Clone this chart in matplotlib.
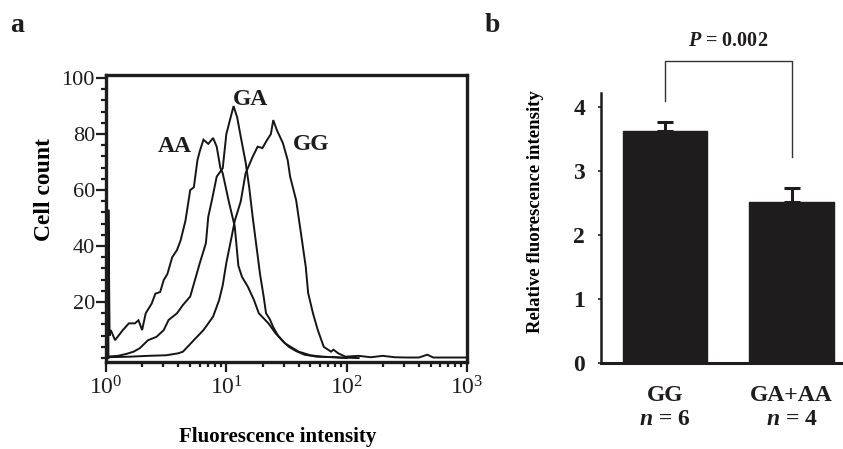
#!/usr/bin/env python3
"""Flow cytometry histogram (a) and relative fluorescence bar chart (b)."""

import matplotlib

matplotlib.use("Agg")
import matplotlib.pyplot as plt
import numpy as np
from matplotlib.ticker import LogLocator, MultipleLocator, NullFormatter

# ---- panel a: histogram traces, x given as log10(fluorescence intensity) ----
AA_LOG10 = [0.02, 0.02, 0.03, 0.04, 0.075, 0.14, 0.19, 0.24, 0.27, 0.30, 0.33, 0.38, 0.41, 0.45,
            0.48, 0.51, 0.55, 0.59, 0.62, 0.66, 0.70, 0.73, 0.76, 0.78, 0.81, 0.85, 0.89, 0.92,
            0.95, 0.97, 1.02, 1.07, 1.10, 1.13, 1.18, 1.23, 1.27, 1.35, 1.41, 1.49, 1.60, 1.70,
            1.80, 1.95, 2.10]
AA_COUNT = [0, 53, 8, 10, 6.4, 10, 12.4, 12.4, 13.5, 10, 16, 19.5, 23, 23.6,
            27.9, 30, 36, 38.6, 42, 49, 60, 61, 70.7, 74, 78, 76.5, 78.6, 75.5,
            68, 66, 56, 47, 33, 29, 25.4, 20.7, 16, 12.4, 8.8, 5.2, 2.3, 1.0,
            0.5, 0.2, 0]

GA_LOG10 = [0.0, 0.10, 0.17, 0.23, 0.28, 0.35, 0.42, 0.48, 0.52, 0.59, 0.64, 0.70, 0.74, 0.78,
            0.83, 0.85, 0.88, 0.92, 0.97, 1.00, 1.03, 1.06, 1.09, 1.12, 1.16, 1.19, 1.22, 1.25,
            1.28, 1.31, 1.33, 1.36, 1.39, 1.43, 1.47, 1.52, 1.58, 1.65, 1.75, 1.90, 2.00]
GA_COUNT = [0.5, 0.8, 1.5, 2.3, 3.5, 6.4, 7.6, 10, 13.6, 16, 19, 22, 28, 34,
            41, 50.5, 56.4, 64.8, 67.8, 80, 85, 90, 86, 79, 70, 61, 50, 40,
            30, 22, 16, 14, 11, 8, 6, 4, 2.5, 1.2, 0.5, 0.3, 0]

GG_LOG10 = [0.0, 0.20, 0.35, 0.50, 0.60, 0.64, 0.73, 0.81, 0.89, 0.94, 0.97, 1.00, 1.05, 1.07,
            1.12, 1.16, 1.22, 1.26, 1.30, 1.34, 1.37, 1.39, 1.42, 1.47, 1.51, 1.53, 1.58, 1.62,
            1.66, 1.68, 1.72, 1.76, 1.81, 1.87, 1.89, 1.93, 1.99, 2.10, 2.20, 2.30, 2.40, 2.50,
            2.60, 2.67, 2.72, 3.00]
GG_COUNT = [0.3, 0.5, 0.8, 1.0, 1.7, 2.3, 6.4, 10, 14.8, 20.7, 26, 34, 44.6, 49,
            56, 66, 72, 75.5, 75, 78, 80, 85, 81.4, 76.8, 70.7, 64.8, 56.4, 44.6,
            32.6, 23.2, 16, 10, 4, 2.3, 3, 1.7, 0.5, 0.8, 0.3, 0.8, 0.3, 0.2,
            0.2, 1.2, 0.2, 0.2]

# ---- panel b: bars ----
GROUPS = ["GG", "GA+AA"]
N_LABELS = ["6", "4"]
REL_FLUOR = [3.62, 2.52]
REL_ERR = [0.15, 0.21]
P_TEXT = "0.002"

INK = "#1f1c1d"


def _set_style() -> None:
    plt.rcParams.update(
        {
            "font.family": ["Liberation Serif", "DejaVu Serif"],
            "mathtext.fontset": "custom",
            "mathtext.rm": "Liberation Serif",
            "mathtext.it": "Liberation Serif:italic:bold",
            "mathtext.bf": "Liberation Serif:bold",
            "axes.edgecolor": INK,
            "xtick.color": INK,
            "ytick.color": INK,
            "text.color": INK,
        }
    )


def draw_histogram(ax) -> None:
    for xs, ys in ((AA_LOG10, AA_COUNT), (GA_LOG10, GA_COUNT), (GG_LOG10, GG_COUNT)):
        ax.plot(10 ** np.asarray(xs), ys, color="#151515", lw=1.4, solid_joinstyle="miter")

    ax.set_xscale("log")
    ax.set_xlim(1, 1000)
    ax.set_ylim(-1.4, 101.1)

    for side in ("left", "right", "top", "bottom"):
        ax.spines[side].set_linewidth(2.4)

    ax.set_xticks([1, 10, 100, 1000], [r"$10^0$", r"$10^1$", r"$10^2$", r"$10^3$"])
    ax.xaxis.set_minor_locator(LogLocator(base=10, subs=np.arange(2, 10)))
    ax.xaxis.set_minor_formatter(NullFormatter())
    ax.set_yticks([20, 40, 60, 80, 100])
    ax.yaxis.set_minor_locator(MultipleLocator(4))
    ax.tick_params(axis="both", which="major", direction="out", length=7, width=1.6, labelsize=16)
    ax.tick_params(axis="both", which="minor", direction="out", length=3.5, width=1.6)
    ax.tick_params(axis="y", which="major", pad=1)
    ax.tick_params(axis="x", which="major", pad=3, labelsize=17)

    ax.set_ylabel("Cell count", fontsize=17, fontweight="bold")
    ax.yaxis.set_label_coords(-0.141, 0.60)
    ax.set_xlabel("Fluorescence intensity", fontsize=15, fontweight="bold", va="top")
    ax.xaxis.set_label_coords(0.475, -0.225)

    label_kw = dict(fontsize=17, fontweight="bold", ha="center", va="center")
    ax.text(3.76, 75.7, "AA", **label_kw)
    ax.text(15.8, 92.5, "GA", **label_kw)
    ax.text(51.0, 76.4, "GG", **label_kw)


def draw_bars(ax) -> None:
    x = np.arange(len(GROUPS))
    ax.bar(x, REL_FLUOR, width=0.665, color=INK, edgecolor=INK, zorder=2)
    ax.errorbar(x, REL_FLUOR, yerr=[np.zeros(len(REL_ERR)), REL_ERR], fmt="none",
                ecolor=INK, elinewidth=2.2, capsize=5.5, capthick=2.2, zorder=1)

    ax.set_xlim(-0.506, 1.407)
    ax.set_ylim(0, 4.22)
    ax.spines["top"].set_visible(False)
    ax.spines["right"].set_visible(False)
    ax.spines["left"].set_linewidth(1.8)
    ax.spines["bottom"].set_linewidth(2.2)

    ax.set_yticks([0, 1, 2, 3, 4])
    ax.tick_params(axis="y", length=2.5, width=1.2, pad=9, labelsize=17)
    for lab in ax.get_yticklabels():
        lab.set_fontweight("bold")
    ax.set_xticks(x, GROUPS)
    ax.tick_params(axis="x", length=0, pad=16, labelsize=17)
    for lab in ax.get_xticklabels():
        lab.set_fontweight("bold")
    for xi, n in zip(x, N_LABELS):
        ax.annotate(f"$n$ = {n}", xy=(xi, 0), xycoords=("data", "axes fraction"),
                    xytext=(0, -41), textcoords="offset points", ha="center", va="center",
                    fontsize=17, fontweight="bold", annotation_clip=False)

    ax.set_ylabel("Relative fluorescence intensity", fontsize=13.5, fontweight="bold")
    ax.yaxis.set_label_coords(-0.235, 0.56)

    # significance bracket
    y_top = 4.72
    ax.plot([x[0], x[0], x[1], x[1]], [4.1, y_top, y_top, 3.22], color="#333333", lw=1.0,
            clip_on=False)
    ax.text(np.mean(x), 5.03, f"$P$ = {P_TEXT}", ha="center", va="center", fontsize=14.5,
            fontweight="bold", clip_on=False)


def main() -> None:
    _set_style()
    W, H = 843, 449
    fig = plt.figure(figsize=(W / 100, H / 100), dpi=100)

    ax_a = fig.add_axes([106 / W, 1 - 362 / H, (467 - 106) / W, (362 - 75) / H])
    ax_b = fig.add_axes([601 / W, 1 - 363 / H, (843 - 601) / W, (363 - 93) / H])
    draw_histogram(ax_a)
    draw_bars(ax_b)

    fig.text(10 / W, 1 - 32 / H, "a", fontsize=20, fontweight="bold", va="baseline")
    fig.text(485 / W, 1 - 32 / H, "b", fontsize=20, fontweight="bold", va="baseline")

    fig.savefig("out.png", dpi=100)
    plt.close(fig)


if __name__ == "__main__":
    main()
